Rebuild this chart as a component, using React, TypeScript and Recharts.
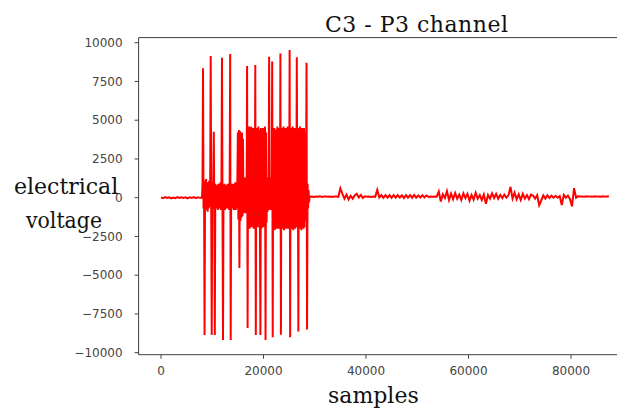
// App.tsx
import { LineChart, Line, XAxis, YAxis, ReferenceLine } from 'recharts';

// quiet part before the burst, one reading every 400 samples
const leadStart = 0;
const leadStep = 400;
const leadVolts = [
  20, -30, 40, -20, 30, -40, 10, -30, 40, -20,
  30, -10, 20, -40, 30, -20, 40, -30, 20, -10,
];

// the burst, one reading every 100 samples
const burstStart = 8000;
const burstStep = 100;
const burstVolts = [
  0, 900, 8350, -700, 1000, -8860, 1100, -800, 1200, -600,
  900, -900, 1000, -700, 1100, -600, 1200, 9140, -800, -8860,
  1000, -700, 800, 4260, -600, -8860, 900, -700, 800, -600,
  700, -800, 900, -700, 800, -600, 1000, -800, 900, 9030,
  -700, -9180, 800, -600, 900, -800, 700, -700, 800, -600,
  900, -700, 800, -800, 1000, 9270, -9180, 800, -700, 900,
  -600, 800, -800, 900, -700, 1000, -800, 900, -700, 1100,
  4200, -1400, 4370, -4540, 4300, -1500, 4100, -1300, 4200, -1200,
  3800, -1000, 1200, -900, 1300, -1000, 1100, -900, 8500, -8400,
  4500, -1800, 4600, -2000, 4400, -1700, 4580, -1900, 4500, -1800,
  4400, -2000, 4500, -1700, 8560, -8860, 4300, -1800, 4500, -1900,
  4600, -1700, 4400, -1800, -8860, 4500, -2000, 4300, -1700, 4500,
  -1900, 4400, -1800, 4600, -9180, 4200, -1600, 1300, -900, 1200,
  -800, 9100, -700, 1300, -800, 1200, -700, 8780, -9000, 4400,
  -1900, 4500, -2100, 4300, -1800, 4400, -2000, 4600, -1900, 4500,
  -2000, 4300, -1800, 9310, -8850, 4400, -2000, 4500, -1900, 4600,
  -2100, 4400, -1800, 4500, -2000, 4300, -1900, 4600, -2000, 4400,
  -1800, 9530, -9000, 4500, -2000, 4400, -1900, 4600, -2100, 4300,
  -1800, 4500, -2000, 4400, -1900, 9060, -1800, 4500, -8640, 4400,
  -2000, 4600, -1900, 4300, -2100, 4500, -1800, 4400, -2000, 4500,
  -1900, 4200, -1500, 1100, 8710, -8500, 900, -700, 500, -300,
];

// after the burst, one reading every 400 samples
const tailStart = 29000;
const tailStep = 400;
const tailVolts = [
  60, 80, 50, 70, 60, 90, 50, 70, 80, 60,
  70, 50, 70, 80, 60, 600, 250, -60, 200, -120,
  120, -60, 150, 250, 20, 180, -20, 90, 60, 80,
  50, 80, 60, 500, 20, 170, -10, 160, 0, 170,
  -10, 160, 0, 170, 10, 150, -20, 170, 0, 160,
  -10, 180, 0, 150, 10, 160, 20, 140, 50, 80,
  60, 80, 70, 400, -250, 220, -20, 420, -150, 260,
  -100, 300, -60, 200, -150, 280, -30, 250, -200, 180,
  -120, 320, -60, 170, -150, 200, -400, 180, -60, 280,
  -20, 250, -60, 180, -20, 200, 0, 150, 700, -60,
  320, -100, 220, -150, 250, -60, 170, -100, 200, 140,
  -60, 160, -480, -180, 150, -60, 160, -20, 130, 0,
  120, 0, 110, -480, 180, 0, 140, -80, -560, 620,
  0, 100, 70, 80, 60, 90, 70, 80, 60, 90,
  70, 80, 60, 90, 70, 80, 70,
];

const xTicks = [0, 20000, 40000, 60000, 80000];
const yTicks = [-10000, -7500, -5000, -2500, 0, 2500, 5000, 7500, 10000];

const toRows = (start: number, step: number, vals: number[]) =>
  vals.map((v, i) => ({ s: start + i * step, v }));

const data = [
  ...toRows(leadStart, leadStep, leadVolts),
  ...toRows(burstStart, burstStep, burstVolts),
  ...toRows(tailStart, tailStep, tailVolts),
];

const tickStyle = { fontFamily: 'DejaVu Sans', fontSize: 12, fill: '#444' };
const axisColor = '#404040';
const fmt = (v: number) => String(v).replace('-', '\u2212');

export default function App() {
  return (
    <div
      style={{
        position: 'fixed',
        left: 0,
        top: 0,
        width: 617,
        height: 408,
        overflow: 'hidden',
        background: '#fff',
      }}
    >
      <LineChart
        width={640}
        height={408}
        data={data}
        margin={{ top: 37.6, right: 8.7, bottom: 13.3, left: 0 }}
      >
        <XAxis
          type="number"
          dataKey="s"
          domain={[-4370, 91770]}
          ticks={xTicks}
          allowDataOverflow
          height={40}
          tickSize={4}
          tickMargin={8}
          tick={tickStyle}
          stroke={axisColor}
          tickFormatter={fmt}
        />
        <YAxis
          type="number"
          domain={[-10130, 10330]}
          ticks={yTicks}
          allowDataOverflow
          width={138.6}
          tickSize={4}
          tickMargin={12}
          tick={tickStyle}
          stroke={axisColor}
          tickFormatter={fmt}
        />
        <ReferenceLine y={10330} stroke={axisColor} strokeWidth={1} />
        <Line
          type="linear"
          dataKey="v"
          stroke="#ff0000"
          strokeWidth={2}
          dot={false}
          isAnimationActive={false}
        />
      </LineChart>
      <svg
        width={617}
        height={408}
        style={{ position: 'absolute', left: 0, top: 0, pointerEvents: 'none' }}
      >
        <g fontFamily="DejaVu Serif" fill="#111">
          <text x={325} y={32} fontSize={22} textLength={183} lengthAdjust="spacing">
            C3 - P3 channel
          </text>
          <text x={14} y={194} fontSize={22}>
            electrical
          </text>
          <text x={26} y={228} fontSize={22} textLength={76} lengthAdjust="spacingAndGlyphs">
            voltage
          </text>
          <text x={328} y={403} fontSize={22}>
            samples
          </text>
        </g>
      </svg>
    </div>
  );
}
